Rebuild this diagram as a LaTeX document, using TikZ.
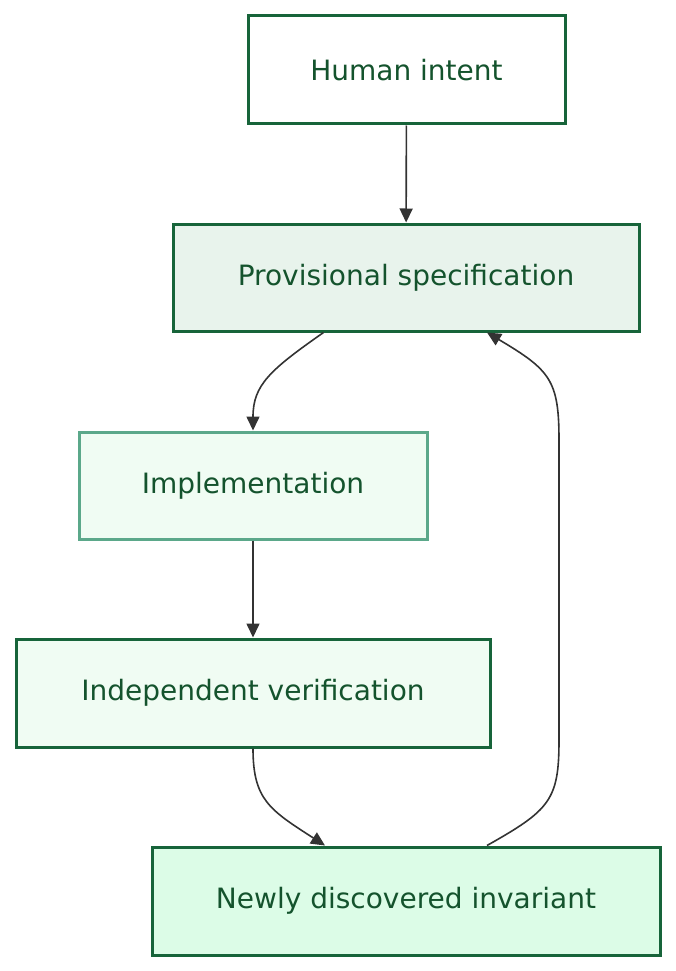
\documentclass[tikz,border=0pt]{standalone}
\usepackage{fontspec}
\setmainfont{DejaVu Sans}
\usetikzlibrary{arrows.meta}
\definecolor{bd}{HTML}{17643A}
\definecolor{bl}{HTML}{5BA88A}
\definecolor{tx}{HTML}{14532D}
\tikzset{x=1pt,y=-1pt,
box/.style={draw=bd,line width=3pt,text=tx,font=\fontsize{28}{32}\selectfont,inner sep=0pt},
arr/.style={draw=black!80,line width=1.6pt,-{Triangle[length=14pt,width=13pt]}}}
\begin{document}
\begin{tikzpicture}
\useasboundingbox (0,0) rectangle (676,971);
\node[box,fill=white,minimum width=317pt,minimum height=108pt] (h) at (406.5,70) {Human intent};
\node[box,fill={rgb,255:red,232;green,243;blue,236},minimum width=466pt,minimum height=107pt] (p) at (406,277.5) {Provisional specification};
\node[box,draw=bl,fill={rgb,255:red,240;green,252;blue,243},minimum width=348pt,minimum height=107pt] (i) at (253,485.5) {Implementation};
\node[box,fill={rgb,255:red,240;green,252;blue,243},minimum width=474pt,minimum height=108pt] (v) at (253,693) {Independent verification};
\node[box,fill={rgb,255:red,220;green,252;blue,231},minimum width=508pt,minimum height=108pt] (n) at (406,901) {Newly discovered invariant};
\draw[arr] (h) -- (p);
\draw[arr] (i) -- (v);
\draw[arr] (p.south west) ++(152,0) .. controls (270,370) and (253,385) .. (i.north);
\draw[arr] (v.south) .. controls (253,800) and (270,810) .. ([xshift=-81pt]n.north);
\draw[arr] ([xshift=81pt]n.north) .. controls (550,810) and (559,800) .. (559,740) -- (559,440) .. controls (559,380) and (550,370) .. ([xshift=81pt]p.south);
\end{tikzpicture}
\end{document}
